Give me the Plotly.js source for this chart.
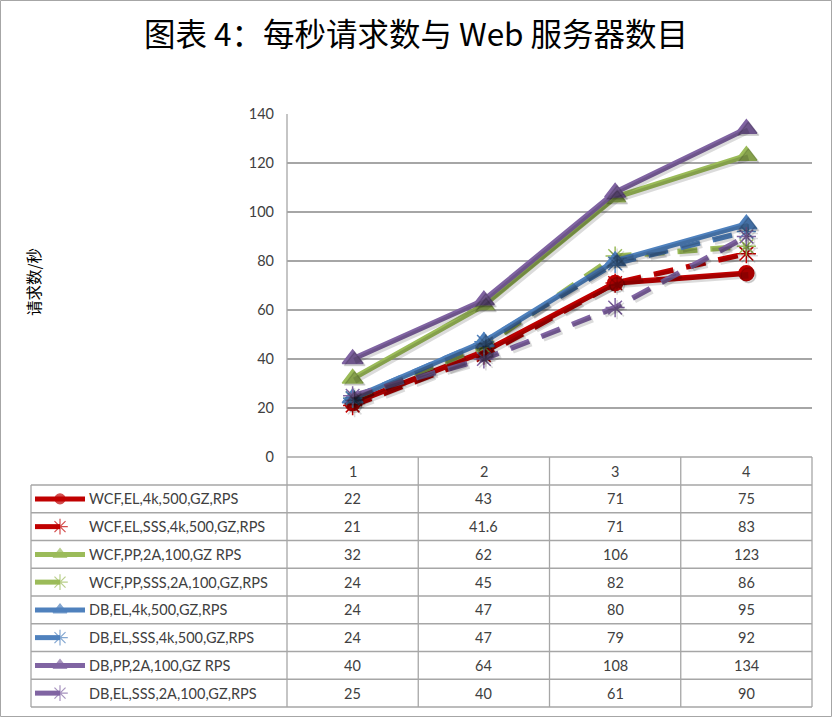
<!DOCTYPE html>
<html>
<head>
<meta charset="utf-8">
<script src="https://cdn.plot.ly/plotly-3.0.1.min.js"></script>
<style>html,body{margin:0;padding:0;background:#fff;}#chart{width:833px;height:717px;}</style>
</head>
<body>
<div id="chart"></div>
<script>
// ---- data ----
const categories = [1, 2, 3, 4];
const seriesNames = [
  "WCF,EL,4k,500,GZ,RPS",
  "WCF,EL,SSS,4k,500,GZ,RPS",
  "WCF,PP,2A,100,GZ RPS",
  "WCF,PP,SSS,2A,100,GZ,RPS",
  "DB,EL,4k,500,GZ,RPS",
  "DB,EL,SSS,4k,500,GZ,RPS",
  "DB,PP,2A,100,GZ RPS",
  "DB,EL,SSS,2A,100,GZ,RPS"
];
const wcfEl = [22, 43, 71, 75];
const wcfElSss = [21, 41.6, 71, 83];
const wcfPp = [32, 62, 106, 123];
const wcfPpSss = [24, 45, 82, 86];
const dbEl = [24, 47, 80, 95];
const dbElSss = [24, 47, 79, 92];
const dbPp = [40, 64, 108, 134];
const dbElSss2 = [25, 40, 61, 90];
const seriesValues = [wcfEl, wcfElSss, wcfPp, wcfPpSss, dbEl, dbElSss, dbPp, dbElSss2];
const yTicks = [0, 20, 40, 60, 80, 100, 120, 140];

// ---- styles ----
const colors = ["#C00000", "#C00000", "#9BBB59", "#9BBB59", "#4F81BD", "#4F81BD", "#8064A2", "#8064A2"];
const dashed = [false, true, false, true, false, true, false, true];
const symbols = ["circle", "asterisk-open", "triangle-up", "asterisk-open", "triangle-up", "asterisk-open", "triangle-up", "asterisk-open"];
const msize = s => s === "circle" ? 15 : (s === "triangle-up" ? 18 : 16);

// ---- layout geometry (pixels) ----
const W = 833, H = 717;
const plotL = 287, plotR = 812, plotT = 114, plotB = 457;
const tableL = 31, headB = 485, tableB = 707;
const nRows = seriesNames.length;
const rowH = (tableB - headB) / nRows;
const colW = (plotR - plotL) / categories.length;
const X = px => px / W;
const Y = py => 1 - py / H;
const textColor = "#404040";
const gridColor = "#A6A6A6";
const font = "Lato, 'Noto Sans', sans-serif";
const dashPat = "20px,13px";

const traces = [];
// shadows
seriesValues.forEach((vals, i) => {
  traces.push({
    x: categories, y: vals, xaxis: "x3", yaxis: "y3", type: "scatter", mode: "lines+markers",
    line: {color: "rgba(0,0,0,0.14)", width: 6.5, dash: dashed[i] ? dashPat : "solid"},
    marker: {symbol: symbols[i], size: msize(symbols[i]), color: "rgba(0,0,0,0.14)",
             line: {color: "rgba(0,0,0,0.14)", width: 1.5}},
    hoverinfo: "skip", showlegend: false
  });
});
// main series
seriesValues.forEach((vals, i) => {
  traces.push({
    x: categories, y: vals, name: seriesNames[i], type: "scatter", mode: "lines+markers",
    line: {color: colors[i], width: 5.5, dash: dashed[i] ? dashPat : "solid"},
    marker: {symbol: symbols[i], size: msize(symbols[i]), color: colors[i],
             line: {color: colors[i], width: 1.5}},
    showlegend: false
  });
});
// legend keys in table
seriesNames.forEach((n, i) => {
  const cy = headB + rowH * (i + 0.5);
  const kx = dashed[i] ? [35, 60] : [35, 60, 85];
  const ks = dashed[i] ? [0, 13] : [0, symbols[i] === "circle" ? 10 : 12, 0];
  traces.push({
    x: kx, y: kx.map(() => cy), xaxis: "x2", yaxis: "y2", type: "scatter", mode: "lines+markers",
    line: {color: colors[i], width: 5},
    marker: {symbol: symbols[i], size: ks, color: colors[i], line: {color: colors[i], width: 1.2}},
    hoverinfo: "skip", showlegend: false
  });
});

const shapes = [];
const line = (x0, y0, x1, y1, c, w) => shapes.push({type: "line", xref: "paper", yref: "paper",
  x0: X(x0), y0: Y(y0), x1: X(x1), y1: Y(y1), line: {color: c || gridColor, width: w || 1.3}});
// outer border
shapes.push({type: "rect", xref: "paper", yref: "paper", x0: X(0.5), x1: X(W - 1.5), y0: Y(H - 0.5), y1: Y(0.5),
  line: {color: "#A6A6A6", width: 1}});
// table
line(plotL, plotB, plotR, plotB);
for (let i = 0; i <= nRows; i++) line(tableL, headB + rowH * i, plotR, headB + rowH * i);
line(tableL, headB, tableL, tableB);
line(plotL, plotT, plotL, tableB);
for (let j = 1; j <= categories.length; j++) line(plotL + colW * j, plotB, plotL + colW * j, tableB);

const annotations = [];
categories.forEach((c, j) => {
  annotations.push({xref: "paper", yref: "paper", x: X(plotL + colW * (j + 0.5)), y: Y((plotB + headB) / 2),
    text: String(c), showarrow: false, xanchor: "center", yanchor: "middle", font: {family: font, size: 14.5, color: textColor}});
});
seriesNames.forEach((n, i) => {
  const cy = headB + rowH * (i + 0.5);
  annotations.push({xref: "paper", yref: "paper", x: X(87), y: Y(cy), text: n, showarrow: false,
    xanchor: "left", yanchor: "middle", font: {family: font, size: 14.5, color: textColor}});
  seriesValues[i].forEach((v, j) => {
    annotations.push({xref: "paper", yref: "paper", x: X(plotL + colW * (j + 0.5)), y: Y(cy), text: String(v),
      showarrow: false, xanchor: "center", yanchor: "middle", font: {family: font, size: 14.5, color: textColor}});
  });
});
annotations.push({xref: "paper", yref: "paper", x: X(33), y: Y(282), text: "请求数/秒", textangle: -90,
  showarrow: false, xanchor: "center", yanchor: "middle", font: {family: "'Noto Sans CJK SC', sans-serif", size: 15.5, color: "#000"}});

const layout = {
  width: W, height: H,
  margin: {l: 0, r: 0, t: 0, b: 0, pad: 0},
  paper_bgcolor: "#fff", plot_bgcolor: "rgba(0,0,0,0)",
  title: {text: "图表 4：每秒请求数与 Web 服务器数目", x: X(416), xanchor: "center", y: Y(35), yanchor: "middle",
          font: {family: "'Noto Sans CJK SC', sans-serif", size: 31.5, color: "#000"}},
  xaxis: {domain: [X(plotL), X(plotR)], range: [0.5, 4.5], showgrid: false, zeroline: false, showticklabels: false, showline: false, fixedrange: true},
  yaxis: {domain: [Y(plotB), Y(plotT)], range: [0, 140], tickvals: yTicks, ticktext: yTicks.map(String),
          showgrid: true, gridcolor: gridColor, gridwidth: 1.3, zeroline: false, showline: false, ticks: "",
          ticklabelstandoff: 12, tickfont: {family: font, size: 14.5, color: textColor}, fixedrange: true},
  xaxis2: {domain: [0, 1], range: [0, W], visible: false, fixedrange: true, anchor: "y2"},
  yaxis2: {domain: [0, 1], range: [H, 0], visible: false, fixedrange: true, anchor: "x2"},
  xaxis3: {domain: [X(plotL + 2), X(plotR + 2)], range: [0.5, 4.5], visible: false, fixedrange: true, anchor: "y3"},
  yaxis3: {domain: [Y(plotB + 2), Y(plotT + 2)], range: [0, 140], visible: false, fixedrange: true, anchor: "x3"},
  shapes: shapes, annotations: annotations, showlegend: false
};
Plotly.newPlot("chart", traces, layout, {displayModeBar: false, staticPlot: true});
</script>
</body>
</html>
